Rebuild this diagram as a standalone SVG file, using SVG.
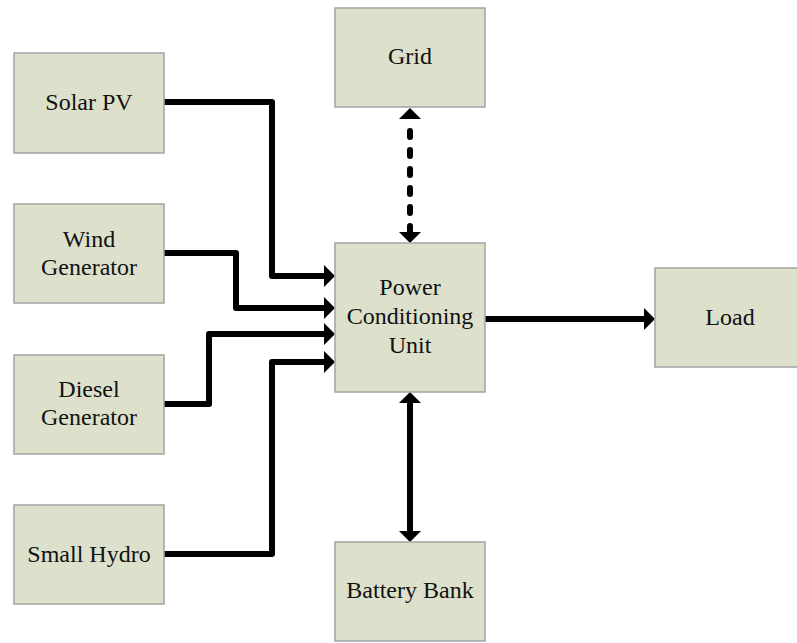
<svg xmlns="http://www.w3.org/2000/svg" width="797" height="643" viewBox="0 0 797 643">
<style>
.box{fill:#DDE0CB;stroke:#A3A3A3;stroke-width:1.5}
.lbl{font-size:24px;fill:#111;text-anchor:middle}
.wire{fill:none;stroke:#000;stroke-width:6;stroke-linejoin:round;stroke-linecap:round}
.dash{stroke-dasharray:6 13;stroke-dashoffset:7}
</style>
<defs>
<marker id="ah" viewBox="0 -11 11 22" refX="0" refY="0" markerWidth="11" markerHeight="22" markerUnits="userSpaceOnUse" orient="auto-start-reverse">
<path d="M0,-11 L11,0 L0,11 z" fill="#000"/>
</marker>
</defs>
<rect width="797" height="643" fill="#fff"/>
<g id="connectors">
<path class="wire" d="M164,102 H272 V276 H324" marker-end="url(#ah)"/>
<path class="wire" d="M164,253 H236 V308 H324" marker-end="url(#ah)"/>
<path class="wire" d="M164,404 H209 V334 H324" marker-end="url(#ah)"/>
<path class="wire" d="M164,554 H272 V362 H324" marker-end="url(#ah)"/>
<path class="wire dash" d="M410,119 V232" marker-start="url(#ah)" marker-end="url(#ah)"/>
<path class="wire" d="M410,403 V531" marker-start="url(#ah)" marker-end="url(#ah)"/>
<path class="wire" d="M485,319 H644" marker-end="url(#ah)"/>
</g>
<g font-family="'Liberation Serif', 'DejaVu Serif', serif">
<g id="solar"><rect class="box" x="14" y="53" width="150" height="100"/><text class="lbl" x="89" y="110">Solar PV</text></g>
<g id="wind"><rect class="box" x="14" y="204" width="150" height="99"/><text class="lbl" x="89" y="247">Wind</text><text class="lbl" x="89" y="275">Generator</text></g>
<g id="diesel"><rect class="box" x="14" y="355" width="150" height="99"/><text class="lbl" x="89" y="397">Diesel</text><text class="lbl" x="89" y="425">Generator</text></g>
<g id="hydro"><rect class="box" x="14" y="505" width="150" height="99"/><text class="lbl" x="89" y="562">Small Hydro</text></g>
<g id="grid"><rect class="box" x="335" y="8" width="150" height="99"/><text class="lbl" x="410" y="64">Grid</text></g>
<g id="pcu"><rect class="box" x="335" y="243" width="150" height="149"/><text class="lbl" x="410" y="295">Power</text><text class="lbl" x="410" y="324">Conditioning</text><text class="lbl" x="410" y="353">Unit</text></g>
<g id="battery"><rect class="box" x="335" y="542" width="150" height="99"/><text class="lbl" x="410" y="598">Battery Bank</text></g>
<g id="load"><rect class="box" x="655" y="268" width="150" height="99"/><text class="lbl" x="730" y="325">Load</text></g>
</g>
</svg>
